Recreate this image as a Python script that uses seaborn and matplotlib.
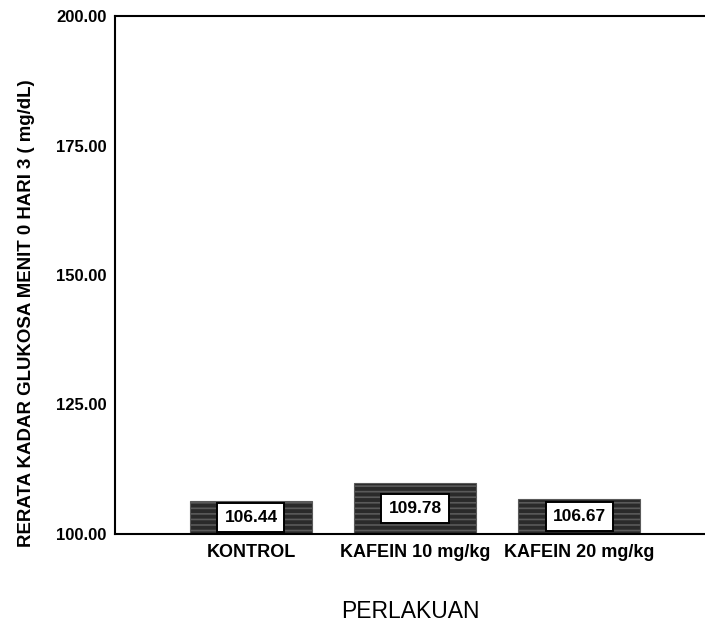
import matplotlib
matplotlib.use("Agg")
import matplotlib.pyplot as plt
import seaborn as sns
import pandas as pd

categories = ["KONTROL", "KAFEIN 10 mg/kg", "KAFEIN 20 mg/kg"]
values = [106.44, 109.78, 106.67]
y_ticks = [100, 125, 150, 175, 200]

sns.set_theme(style="white")
plt.rcParams["font.family"] = ["Liberation Sans", "DejaVu Sans"]
plt.rcParams["hatch.linewidth"] = 1.2

df = pd.DataFrame({"PERLAKUAN": categories, "value": values})

fig = plt.figure(figsize=(7.05, 6.26), dpi=100)
ax = fig.add_axes([0.1631, 0.147, 0.8369, 0.8274])

sns.barplot(data=df, x="PERLAKUAN", y="value", ax=ax, color="#2a2a2a",
            width=0.744, saturation=1, edgecolor="#5a5a5a", linewidth=0.8,
            hatch="---", errorbar=None)

ax.set_ylim(100, 200)
ax.set_xlim(-0.829, 2.768)
ax.set_yticks(y_ticks)
ax.set_yticklabels([f"{t:.2f}" for t in y_ticks], fontsize=12,
                   fontweight="bold", color="black")
ax.set_xticks(range(len(categories)))
ax.set_xticklabels(categories, fontsize=13, fontweight="bold", color="black")

for p, v in zip(ax.patches, values):
    cx = p.get_x() + p.get_width() / 2
    ax.text(cx, (100 + v) / 2, f"{v:.2f}", ha="center", va="center",
            fontsize=12.5, fontweight="bold", color="black",
            bbox=dict(boxstyle="square,pad=0.4", facecolor="white",
                      edgecolor="black", linewidth=1.4))

ax.set_xlabel("PERLAKUAN", fontsize=16.5, color="black", labelpad=28)
ax.set_ylabel("RERATA KADAR GLUKOSA MENIT 0 HARI 3 ( mg/dL)", fontsize=13.4,
              fontweight="bold", color="black")
ax.yaxis.set_label_coords(-0.135, 0.427)

for side in ["left", "top", "bottom"]:
    ax.spines[side].set_visible(True)
    ax.spines[side].set_color("black")
    ax.spines[side].set_linewidth(1.5)
ax.spines["right"].set_visible(False)

ax.tick_params(axis="y", direction="out", length=5, width=1.2, colors="black", pad=1)
ax.tick_params(axis="x", direction="out", length=4, width=1.2, colors="black", pad=3)

fig.savefig("out.png", dpi=100)
